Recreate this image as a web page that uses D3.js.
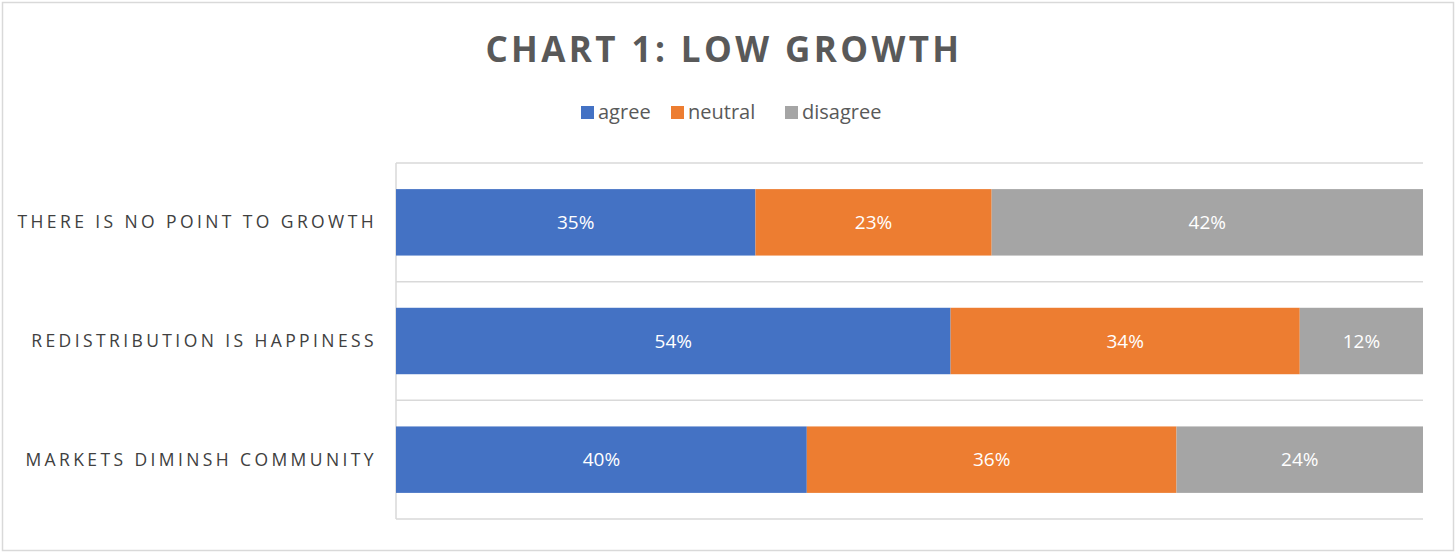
<!DOCTYPE html>
<html>
<head>
<meta charset="utf-8">
<script src="https://cdn.jsdelivr.net/npm/d3@7"></script>
<style>
  body { margin: 0; background: #fff; }
  svg { display: block; font-family: "Open Sans", "Liberation Sans", sans-serif; }
</style>
</head>
<body>
<svg id="chart" width="1456" height="553"></svg>
<script>
// data
const categories = ["THERE IS NO POINT TO GROWTH", "REDISTRIBUTION IS HAPPINESS", "MARKETS DIMINSH COMMUNITY"];
const seriesNames = ["agree", "neutral", "disagree"];
const agree = [35, 54, 40];
const neutral = [23, 34, 36];
const disagree = [42, 12, 24];
const colors = ["#4472c4", "#ed7d31", "#a5a5a5"];

const svg = d3.select("#chart");
const W = 1456, H = 553;
const plot = {left: 396, right: 1423, top: 163, bottom: 519};

// outer frame
svg.append("rect")
   .attr("x", 2.5).attr("y", 2.5)
   .attr("width", W - 5).attr("height", H - 5)
   .attr("fill", "#fff")
   .attr("stroke", "#d9d9d9").attr("stroke-width", 1.5);

// title
svg.append("text")
   .attr("x", 724).attr("y", 62)
   .attr("text-anchor", "middle")
   .attr("fill", "#595959")
   .style("font-size", "35px").style("font-weight", "bold")
   .style("letter-spacing", "3.4px")
   .text("CHART 1: LOW GROWTH");

// rows as objects for stacking
const rows = categories.map((c, i) => ({cat: c, agree: agree[i], neutral: neutral[i], disagree: disagree[i]}));
const stacked = d3.stack().keys(seriesNames)(rows);

const x = d3.scaleLinear().domain([0, 100]).range([plot.left, plot.right]);
const y = d3.scaleBand().domain(categories).range([plot.top, plot.bottom]).paddingInner(0.44).paddingOuter(0.22);
const color = d3.scaleOrdinal().domain(seriesNames).range(colors);

// band separators (gridlines)
const bandStep = (plot.bottom - plot.top) / categories.length;
svg.append("g").selectAll("line")
   .data(d3.range(categories.length + 1))
   .enter().append("line")
   .attr("x1", plot.left).attr("x2", plot.right)
   .attr("y1", d => plot.top + d * bandStep)
   .attr("y2", d => plot.top + d * bandStep)
   .attr("stroke", "#d9d9d9").attr("stroke-width", 1.5);

// left axis line
svg.append("line")
   .attr("x1", plot.left).attr("x2", plot.left)
   .attr("y1", plot.top).attr("y2", plot.bottom)
   .attr("stroke", "#d9d9d9").attr("stroke-width", 1.5);

// bars
const layer = svg.append("g").selectAll("g")
   .data(stacked)
   .enter().append("g")
   .attr("fill", d => color(d.key));

layer.selectAll("rect")
   .data(d => d)
   .enter().append("rect")
   .attr("x", d => x(d[0]))
   .attr("y", d => y(d.data.cat))
   .attr("width", d => x(d[1]) - x(d[0]))
   .attr("height", y.bandwidth());

// value labels
layer.selectAll("text")
   .data(d => d.map(v => ({v: v, key: d.key})))
   .enter().append("text")
   .attr("x", d => (x(d.v[0]) + x(d.v[1])) / 2)
   .attr("y", d => y(d.v.data.cat) + y.bandwidth() / 2)
   .attr("dy", "0.35em")
   .attr("text-anchor", "middle")
   .attr("fill", "#fff")
   .style("font-size", "19px")
   .text(d => d.v.data[d.key] + "%");

// category labels
svg.append("g").selectAll("text")
   .data(categories)
   .enter().append("text")
   .attr("x", 377)
   .attr("y", d => y(d) + y.bandwidth() / 2)
   .attr("dy", "0.35em")
   .attr("text-anchor", "end")
   .attr("fill", "#404040")
   .style("font-size", "17.5px")
   .style("letter-spacing", "3.4px")
   .text(d => d);

// legend
const legendX = [581, 671, 785];
const legend = svg.append("g").selectAll("g")
   .data(seriesNames)
   .enter().append("g")
   .attr("transform", (d, i) => `translate(${legendX[i]},112)`);
legend.append("rect")
   .attr("x", 0).attr("y", -6)
   .attr("width", 13).attr("height", 13)
   .attr("fill", d => color(d));
legend.append("text")
   .attr("x", 17).attr("y", 0)
   .attr("dy", "0.35em")
   .attr("fill", "#595959")
   .style("font-size", "20px")
   .text(d => d);
</script>
</body>
</html>
